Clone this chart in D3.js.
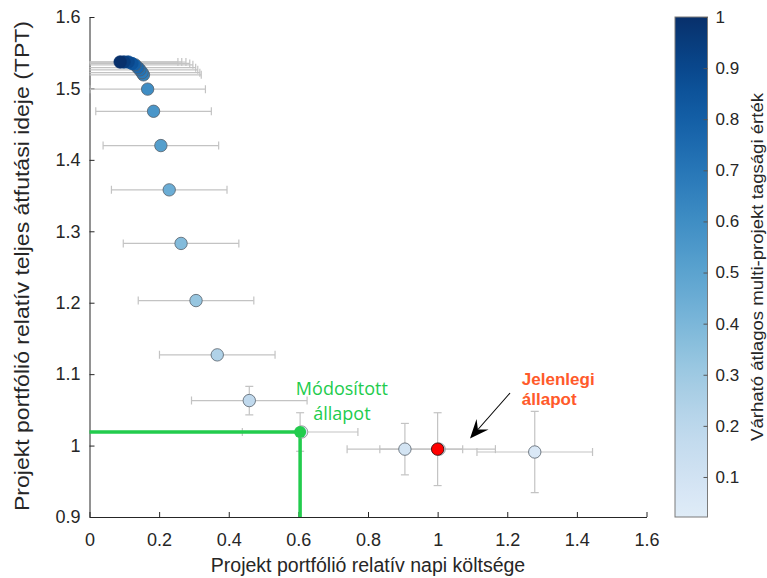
<!DOCTYPE html>
<html>
<head>
<meta charset="utf-8">
<script src="https://cdn.jsdelivr.net/npm/d3@7"></script>
<style>
  body { margin: 0; background: #fff; }
  svg { display: block; font-family: "Liberation Sans", Arial, sans-serif; }
</style>
</head>
<body>
<div id="chart"></div>
<script>
// data
var cost = [0.088, 0.099, 0.111, 0.122, 0.131, 0.139, 0.145, 0.151, 0.155,
            0.167, 0.184, 0.205, 0.229, 0.263, 0.306, 0.367, 0.459, 0.906, 1.279];
var tpt = [1.537, 1.537, 1.537, 1.535, 1.533, 1.529, 1.526, 1.522, 1.519,
           1.499, 1.468, 1.420, 1.358, 1.283, 1.203, 1.127, 1.063, 0.995, 0.991];
var membership = [1.0, 0.95, 0.9, 0.85, 0.8, 0.76, 0.72, 0.68, 0.65,
                  0.6, 0.56, 0.52, 0.45, 0.38, 0.32, 0.24, 0.18, 0.09, 0.05];
var costErr = [0.166, 0.166, 0.166, 0.166, 0.166, 0.166, 0.166, 0.166, 0.166,
               0.166, 0.166, 0.166, 0.166, 0.166, 0.166, 0.166, 0.166, 0.166, 0.166];
var tptErr = [0, 0, 0, 0, 0, 0, 0, 0, 0,
              0, 0, 0, 0, 0, 0, 0, 0.020, 0.036, 0.057];

var modified = {cost: 0.605, tpt: 1.019, costErr: 0.166, tptErr: 0.027};
var current = {cost: 1.0, tpt: 0.995, costErr: 0.166, tptErr: 0.051};

var xTicks = [0, 0.2, 0.4, 0.6, 0.8, 1, 1.2, 1.4, 1.6];
var yTicks = [0.9, 1, 1.1, 1.2, 1.3, 1.4, 1.5, 1.6];
var cTicks = [0.1, 0.2, 0.3, 0.4, 0.5, 0.6, 0.7, 0.8, 0.9, 1];
var cRange = [0.0217, 1];

var svgWidth = 767, svgHeight = 578;
var plot = {left: 89.5, right: 646.5, top: 17, bottom: 517};
var bar = {left: 675, right: 707.5};

var svg = d3.select('#chart').append('svg')
  .attr('width', svgWidth)
  .attr('height', svgHeight);

var x = d3.scaleLinear().domain([0, 1.6]).range([plot.left, plot.right]);
var y = d3.scaleLinear().domain([0.9, 1.6]).range([plot.bottom, plot.top]);
var cy = d3.scaleLinear().domain(cRange).range([plot.bottom, plot.top]);
var color = function(v) { return d3.interpolateBlues(0.1 + 0.9 * v); };

var fmt = function(d) { return String(+d.toFixed(1)); };
var axisColor = '#262626';

// clip
svg.append('defs').append('clipPath').attr('id', 'clip')
  .append('rect')
  .attr('x', plot.left).attr('y', plot.top - 10)
  .attr('width', plot.right - plot.left + 10)
  .attr('height', plot.bottom - plot.top + 10);

// axes
var xAxis = svg.append('g')
  .attr('transform', 'translate(0,' + plot.bottom + ')')
  .call(d3.axisBottom(x).tickValues(xTicks).tickFormat(fmt).tickSize(-5).tickSizeOuter(0).tickPadding(16));
var yAxis = svg.append('g')
  .attr('transform', 'translate(' + plot.left + ',0)')
  .call(d3.axisLeft(y).tickValues(yTicks).tickFormat(fmt).tickSize(-5).tickSizeOuter(0).tickPadding(9));
[xAxis, yAxis].forEach(function(g) {
  g.select('.domain').attr('stroke', axisColor);
  g.selectAll('.tick line').attr('stroke', axisColor);
  g.selectAll('.tick text').attr('fill', axisColor)
    .style('font-size', '18px').style('font-family', '"Liberation Sans", Arial, sans-serif');
});

var data = cost.map(function(c, i) {
  return {cost: c, tpt: tpt[i], m: membership[i], costErr: costErr[i], tptErr: tptErr[i]};
});
var allPts = data.concat([modified, current]);

// error bars
var eb = svg.append('g').attr('clip-path', 'url(#clip)')
  .attr('stroke', '#c3c3c3').attr('stroke-width', 1.2).attr('fill', 'none');
var cap = 4;
allPts.forEach(function(d) {
  var x0 = x(d.cost - d.costErr), x1 = x(d.cost + d.costErr), yy = y(d.tpt);
  eb.append('line').attr('x1', x0).attr('x2', x1).attr('y1', yy).attr('y2', yy);
  eb.append('line').attr('x1', x0).attr('x2', x0).attr('y1', yy - cap).attr('y2', yy + cap);
  eb.append('line').attr('x1', x1).attr('x2', x1).attr('y1', yy - cap).attr('y2', yy + cap);
  if (d.tptErr > 0) {
    var xx = x(d.cost), y0 = y(d.tpt - d.tptErr), y1 = y(d.tpt + d.tptErr);
    eb.append('line').attr('x1', xx).attr('x2', xx).attr('y1', y0).attr('y2', y1);
    eb.append('line').attr('x1', xx - cap).attr('x2', xx + cap).attr('y1', y0).attr('y2', y0);
    eb.append('line').attr('x1', xx - cap).attr('x2', xx + cap).attr('y1', y1).attr('y2', y1);
  }
});

// points, lightest first so dark ones sit on top of the cluster
svg.append('g').selectAll('circle')
  .data(data.slice().reverse())
  .enter()
  .append('circle')
  .attr('cx', function(d) { return x(d.cost); })
  .attr('cy', function(d) { return y(d.tpt); })
  .attr('r', 6.2)
  .attr('fill', function(d) { return color(d.m); })
  .attr('stroke', function(d) { return d.m > 0.8 ? color(d.m) : '#55606a'; })
  .attr('stroke-width', 0.8);

// modified state guide lines
var green = '#22cc4d';
svg.append('path')
  .attr('d', 'M' + x(0) + ',' + y(modified.tpt) + 'H' + x(modified.cost) + 'V' + y(0.9))
  .attr('fill', 'none').attr('stroke', green).attr('stroke-width', 3.5);
svg.append('circle')
  .attr('cx', x(modified.cost) + 1.5).attr('cy', y(modified.tpt))
  .attr('r', 6.2).attr('fill', '#d6e6f4').attr('stroke', '#8a8a8a').attr('stroke-width', 0.8);
svg.append('circle')
  .attr('cx', x(modified.cost)).attr('cy', y(modified.tpt))
  .attr('r', 6).attr('fill', green);

// current state
svg.append('circle')
  .attr('cx', x(current.cost) + 1.5).attr('cy', y(current.tpt))
  .attr('r', 6.2).attr('fill', '#d6e6f4').attr('stroke', '#8a8a8a').attr('stroke-width', 0.8);
svg.append('circle')
  .attr('cx', x(current.cost)).attr('cy', y(current.tpt))
  .attr('r', 6.2).attr('fill', '#ff0000').attr('stroke', '#3a1010').attr('stroke-width', 0.9);

// annotations
var gt = svg.append('text')
  .attr('text-anchor', 'middle')
  .style('font-family', '"Open Sans", "Noto Sans", sans-serif')
  .style('font-size', '18px')
  .attr('fill', green);
gt.append('tspan').attr('x', x(0.725)).attr('y', y(1.0708)).text('Módosított');
gt.append('tspan').attr('x', x(0.725)).attr('dy', 24.5).text('állapot');

var rt = svg.append('text')
  .style('font-size', '17px').style('font-weight', 'bold')
  .attr('fill', '#ff5a2a');
rt.append('tspan').attr('x', x(1.242)).attr('y', y(1.0848)).text('Jelenlegi');
rt.append('tspan').attr('x', x(1.242)).attr('dy', 19.5).text('állapot');

// arrow
var tail = [x(1.208), y(1.0736)], tip = [x(1.093), y(1.0099)];
var dx = tip[0] - tail[0], dy = tip[1] - tail[1], len = Math.sqrt(dx * dx + dy * dy);
var ux = dx / len, uy = dy / len, px = -uy, py = ux;
var hl = 19, hw = 8, notch = 12;
svg.append('line')
  .attr('x1', tail[0]).attr('y1', tail[1])
  .attr('x2', tip[0] - ux * notch).attr('y2', tip[1] - uy * notch)
  .attr('stroke', '#000').attr('stroke-width', 1.1);
svg.append('path')
  .attr('d', 'M' + tip[0] + ',' + tip[1] +
    'L' + (tip[0] - ux * hl + px * hw) + ',' + (tip[1] - uy * hl + py * hw) +
    'L' + (tip[0] - ux * notch) + ',' + (tip[1] - uy * notch) +
    'L' + (tip[0] - ux * hl - px * hw) + ',' + (tip[1] - uy * hl - py * hw) + 'Z')
  .attr('fill', '#000');

// axis labels (the rotated ones are stretched in the original)
svg.append('text')
  .attr('x', (plot.left + plot.right) / 2).attr('y', 572)
  .attr('text-anchor', 'middle').attr('fill', axisColor)
  .style('font-size', '19.5px')
  .text('Projekt portfólió relatív napi költsége');
svg.append('text')
  .attr('transform', 'translate(22,' + ((plot.top + plot.bottom) / 2 - 1) + ') rotate(-90)')
  .attr('text-anchor', 'middle').attr('dy', '0.35em').attr('fill', axisColor)
  .attr('textLength', 490).attr('lengthAdjust', 'spacingAndGlyphs')
  .style('font-size', '19.5px')
  .text('Projekt portfólió relatív teljes átfutási ideje (TPT)');

// colorbar
var grad = svg.select('defs').append('linearGradient')
  .attr('id', 'cbar').attr('x1', 0).attr('x2', 0).attr('y1', 1).attr('y2', 0);
d3.range(0, 1.0001, 0.05).forEach(function(t) {
  var v = cRange[0] + t * (cRange[1] - cRange[0]);
  grad.append('stop').attr('offset', t).attr('stop-color', color(v));
});
svg.append('rect')
  .attr('x', bar.left).attr('y', plot.top)
  .attr('width', bar.right - bar.left).attr('height', plot.bottom - plot.top)
  .attr('fill', 'url(#cbar)').attr('stroke', '#7a7a7a').attr('stroke-width', 1);
var cAxis = svg.append('g')
  .attr('transform', 'translate(' + bar.right + ',0)')
  .call(d3.axisRight(cy).tickValues(cTicks).tickFormat(fmt).tickSize(-4).tickSizeOuter(0).tickPadding(8));
cAxis.select('.domain').remove();
cAxis.selectAll('.tick line').attr('stroke', '#555');
cAxis.selectAll('.tick text').attr('fill', axisColor)
  .style('font-size', '17px').style('font-family', '"Liberation Sans", Arial, sans-serif');
svg.append('text')
  .attr('transform', 'translate(757,' + ((plot.top + plot.bottom) / 2) + ') rotate(-90)')
  .attr('text-anchor', 'middle').attr('dy', '0.35em').attr('fill', axisColor)
  .attr('textLength', 348).attr('lengthAdjust', 'spacingAndGlyphs')
  .style('font-size', '16px')
  .text('Várható átlagos multi-projekt tagsági érték');
</script>
</body>
</html>
